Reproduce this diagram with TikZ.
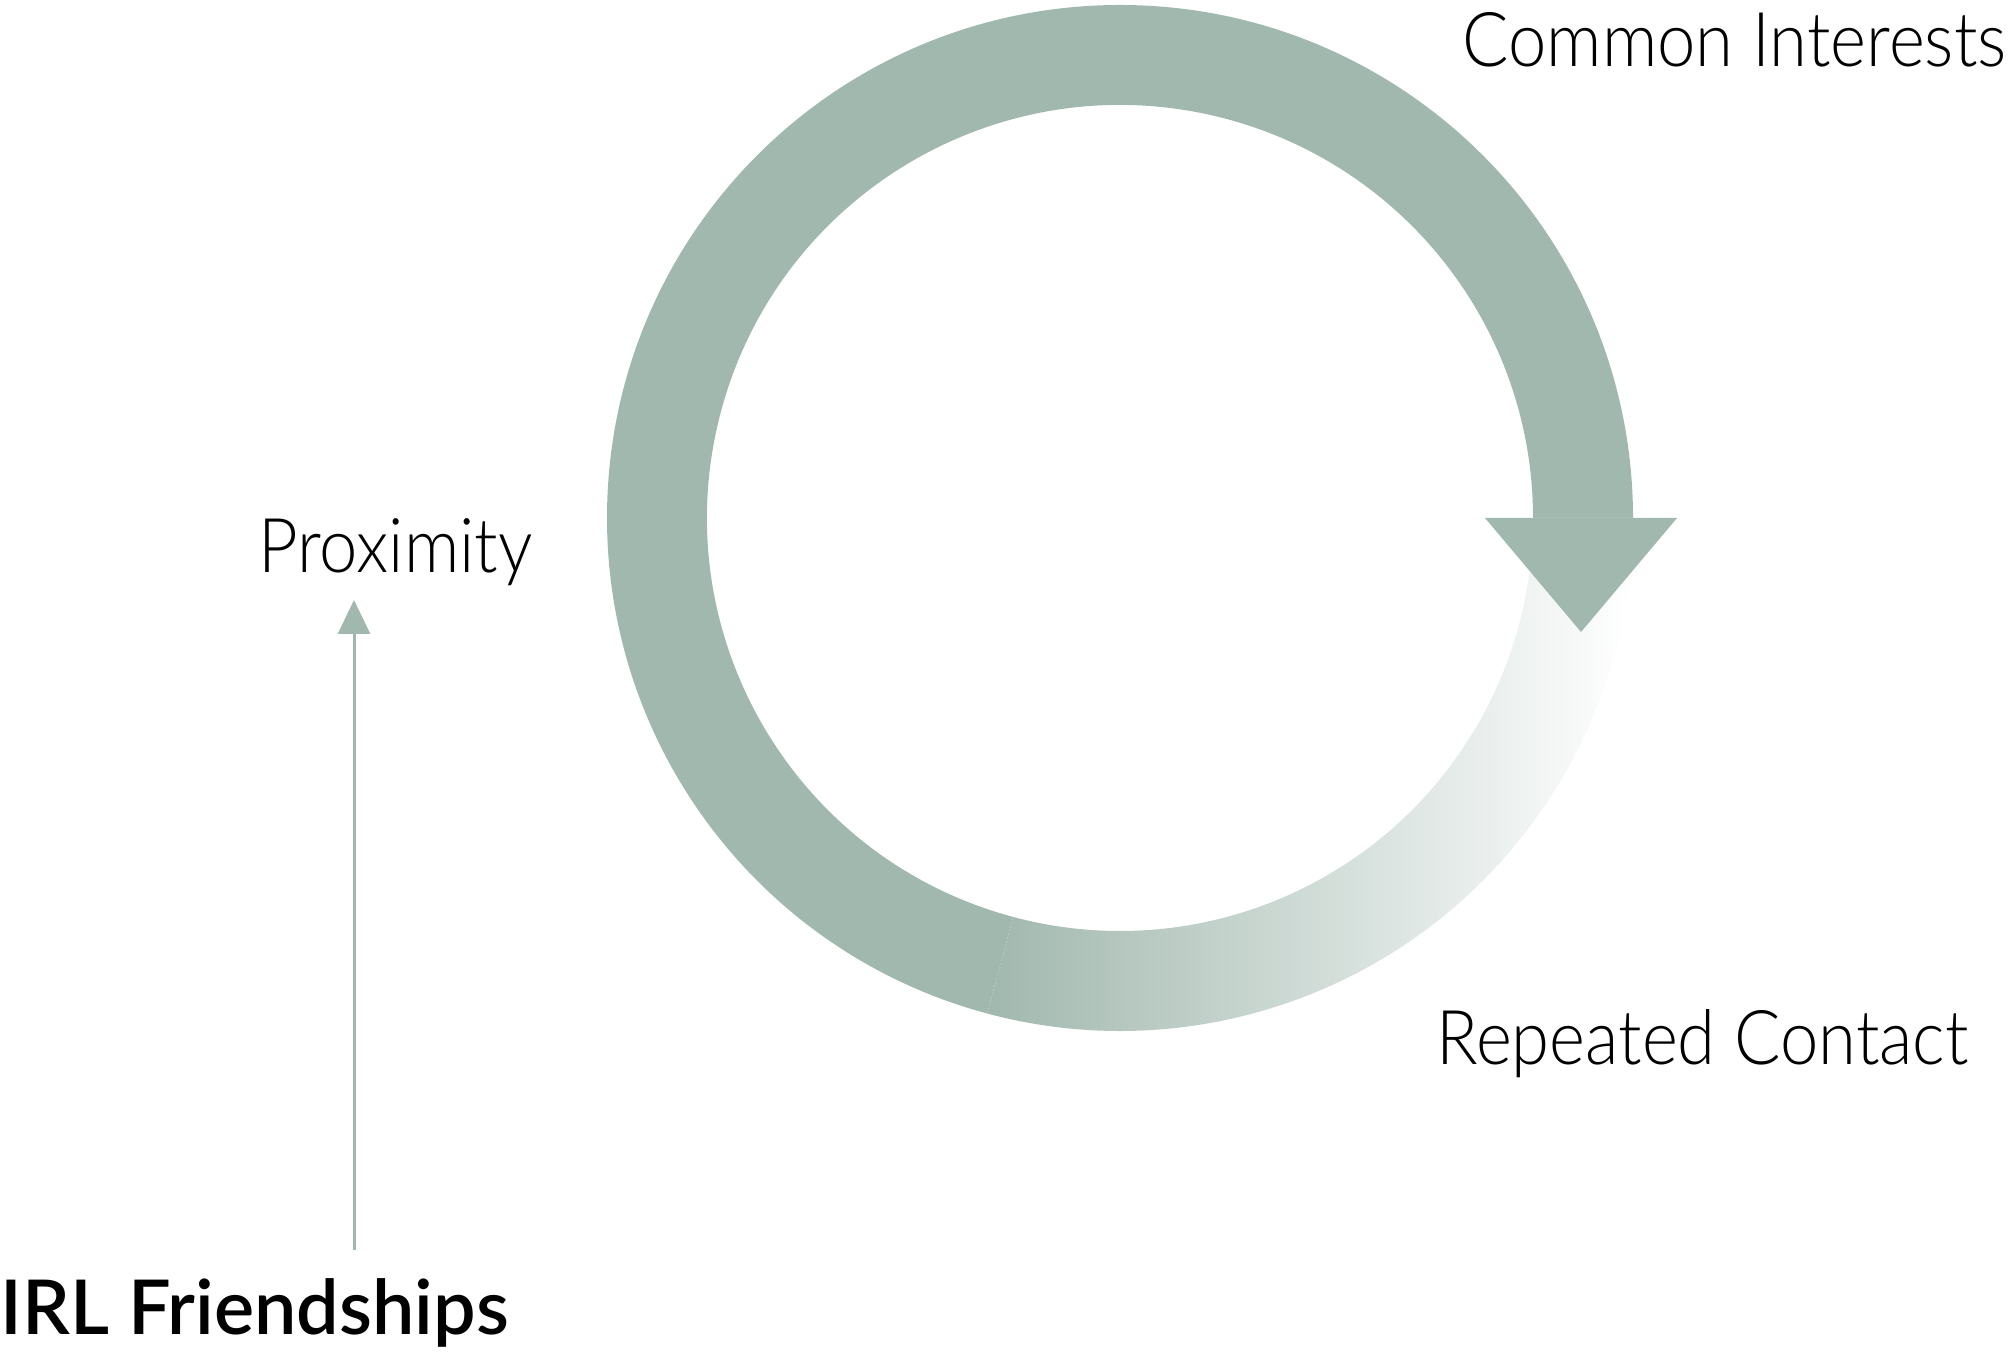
\documentclass[tikz,border=0pt]{standalone}
\usepackage{fontspec}
\newfontfamily\thinfont{Lato}[UprightFont=* Light]
\newfontfamily\headfont{Lato}[UprightFont=* Semibold]
\usetikzlibrary{arrows.meta,calc}
\definecolor{sage}{HTML}{A1B8AE}
\newcommand{\narrow}[1]{\scalebox{0.91}[1]{#1}}

\begin{document}
\begin{tikzpicture}[x=0.02cm,y=0.02cm,
  every node/.style={inner sep=0pt,anchor=base west},
  lbl/.style={font=\thinfont\fontsize{43}{50}\selectfont},
  headlbl/.style={font=\headfont\fontsize{43}{50}\selectfont}]

\useasboundingbox (0,0) rectangle (2011,1363);

\coordinate (c) at (1120,845);

% ring, solid part
\fill[sage] ($(c)+(0:513)$) arc[start angle=0,end angle=255,radius=513]
  -- ($(c)+(255:413)$) arc[start angle=255,end angle=0,radius=413] -- cycle;

% ring, fading part
\shade[left color=sage,right color=white] ($(c)+(255:513)$) arc[start angle=255,end angle=360,radius=513]
  -- ($(c)+(0:413)$) arc[start angle=360,end angle=255,radius=413] -- cycle;

% arrow head
\fill[sage] (1485,845) -- (1677,845) -- (1581,731) -- cycle;

\node[lbl,anchor=base east] (common) at (2007,1296) {\narrow{Common Interests}};
\node[lbl] (prox) at (258,790) {\narrow{Proximity}};
\node[lbl,anchor=base east] (contact) at (1969,299) {\narrow{Repeated Contact}};
\node[headlbl] (irl) at (0,29) {IRL Friendships};

\coordinate (foot) at (354,113);
\coordinate (tip) at (354,763);
\draw[sage,line width=0.06cm,-{Triangle[width=0.64cm,length=0.68cm]}] (foot) -- (tip);

\end{tikzpicture}
\end{document}
